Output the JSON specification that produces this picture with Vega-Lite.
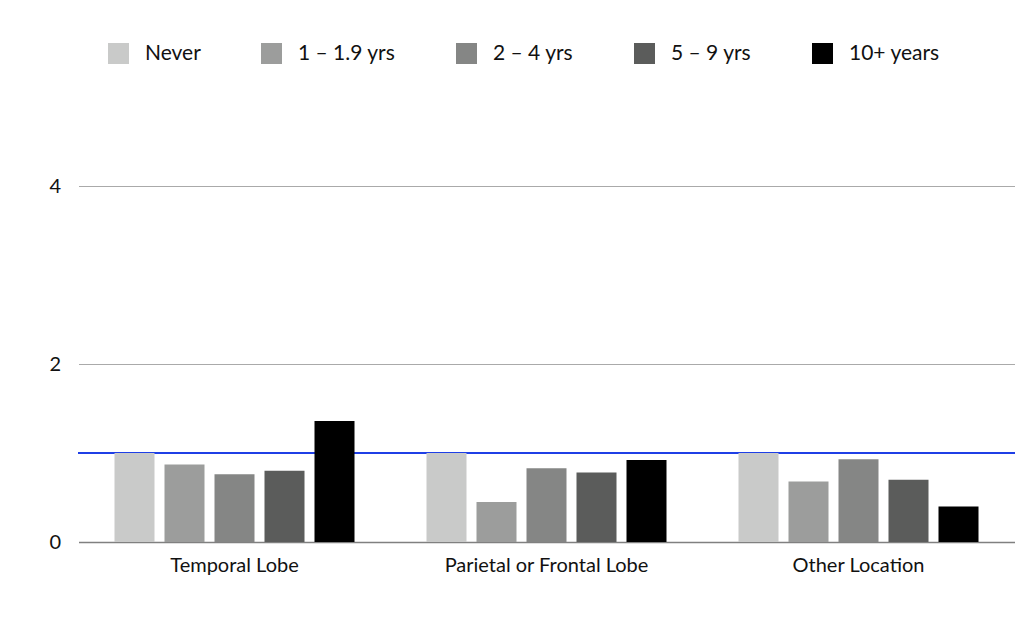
{
  "$schema": "https://vega.github.io/schema/vega-lite/v6.json",
  "autosize": {"type": "none"},
  "width": 936,
  "height": 445,
  "padding": {"left": 78.5, "top": 97, "right": 14.5, "bottom": 99},
  "background": "white",
  "config": {"view": {"stroke": null}, "font": "Lato"},
  "data": {"values": [
    {"location": "Temporal Lobe", "duration": "Never", "value": 1.0},
    {"location": "Temporal Lobe", "duration": "1 – 1.9 yrs", "value": 0.87},
    {"location": "Temporal Lobe", "duration": "2 – 4 yrs", "value": 0.76},
    {"location": "Temporal Lobe", "duration": "5 – 9 yrs", "value": 0.80},
    {"location": "Temporal Lobe", "duration": "10+ years", "value": 1.36},
    {"location": "Parietal or Frontal Lobe", "duration": "Never", "value": 1.0},
    {"location": "Parietal or Frontal Lobe", "duration": "1 – 1.9 yrs", "value": 0.45},
    {"location": "Parietal or Frontal Lobe", "duration": "2 – 4 yrs", "value": 0.83},
    {"location": "Parietal or Frontal Lobe", "duration": "5 – 9 yrs", "value": 0.78},
    {"location": "Parietal or Frontal Lobe", "duration": "10+ years", "value": 0.92},
    {"location": "Other Location", "duration": "Never", "value": 1.0},
    {"location": "Other Location", "duration": "1 – 1.9 yrs", "value": 0.68},
    {"location": "Other Location", "duration": "2 – 4 yrs", "value": 0.93},
    {"location": "Other Location", "duration": "5 – 9 yrs", "value": 0.70},
    {"location": "Other Location", "duration": "10+ years", "value": 0.40}
  ]},
  "layer": [
    {
      "mark": {"type": "rule", "color": "#1f3fe6", "strokeWidth": 2},
      "encoding": {"y": {"datum": 1, "type": "quantitative"}}
    },
    {
      "mark": {"type": "bar"},
      "encoding": {
        "x": {
          "field": "location", "type": "nominal",
          "sort": ["Temporal Lobe", "Parietal or Frontal Lobe", "Other Location"],
          "title": null,
          "scale": {"paddingInner": 0, "paddingOuter": 0},
          "axis": {"labelAngle": 0, "ticks": false, "domainColor": "#808080", "domainWidth": 1.5, "labelFontSize": 20, "labelPadding": 13, "labelLimit": 400, "labelColor": "#111111", "grid": false}
        },
        "xOffset": {
          "field": "duration", "type": "nominal",
          "sort": ["Never", "1 – 1.9 yrs", "2 – 4 yrs", "5 – 9 yrs", "10+ years"],
          "scale": {"paddingInner": 0.2, "paddingOuter": 0.72}
        },
        "y": {
          "field": "value", "type": "quantitative", "title": null,
          "scale": {"domain": [0, 5], "nice": false},
          "axis": {"values": [0, 2, 4], "format": "d", "grid": true, "domain": false, "ticks": false, "labelFontSize": 20, "labelPadding": 18, "labelColor": "#111111", "gridColor": "#aaaaaa", "gridWidth": 1, "gridOpacity": 1}
        },
        "color": {
          "field": "duration", "type": "nominal",
          "sort": ["Never", "1 – 1.9 yrs", "2 – 4 yrs", "5 – 9 yrs", "10+ years"],
          "scale": {
            "domain": ["Never", "1 – 1.9 yrs", "2 – 4 yrs", "5 – 9 yrs", "10+ years"],
            "range": ["#c9cac9", "#9c9d9c", "#858685", "#5b5c5b", "#000000"]
          },
          "legend": {
            "title": null, "orient": "none", "direction": "horizontal",
            "legendX": 29.5, "legendY": -54,
            "symbolType": "square", "symbolSize": 441, "symbolStrokeWidth": 0, "symbolOpacity": 1,
            "labelFontSize": 21, "labelOffset": 16, "columnPadding": 60, "labelColor": "#111111"
          }
        }
      }
    }
  ]
}
